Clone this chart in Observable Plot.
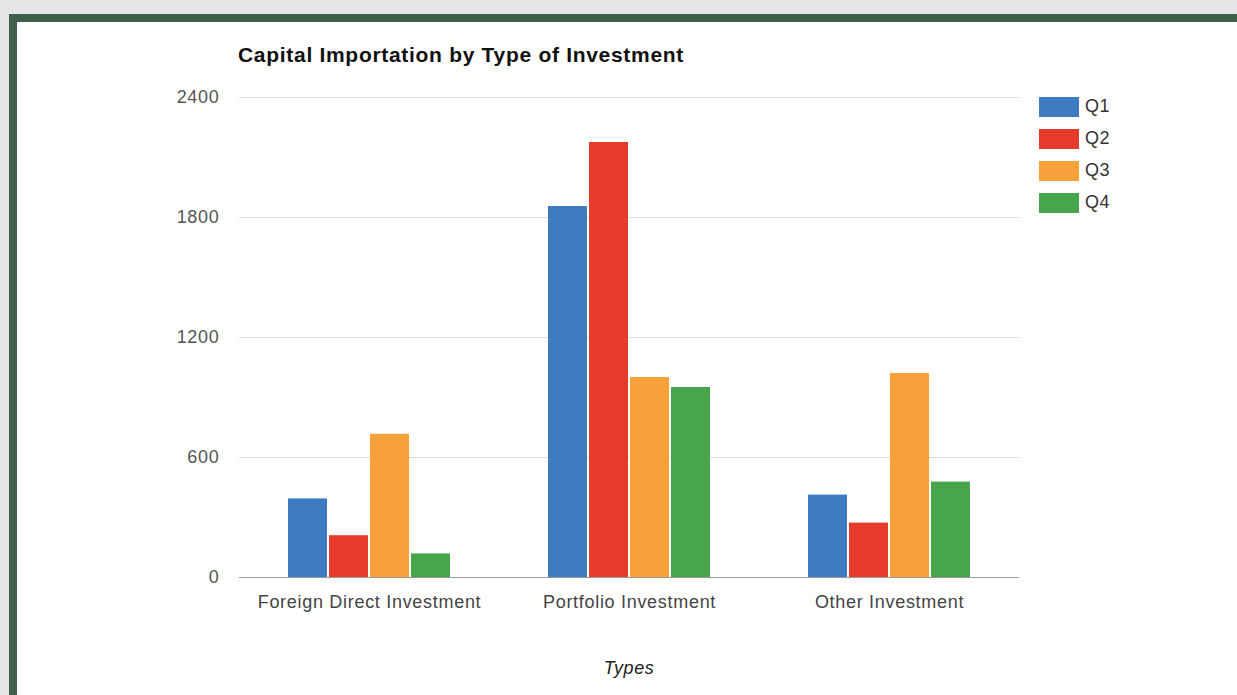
<!DOCTYPE html>
<html><head><meta charset="utf-8">
<script src="https://cdn.jsdelivr.net/npm/d3@7"></script>
<script src="https://cdn.jsdelivr.net/npm/@observablehq/plot@0.6"></script>
<style>
html,body{margin:0;padding:0;}
body{width:1237px;height:695px;background:#e4e6e7;position:relative;overflow:hidden;font-family:"Liberation Sans",Arial,sans-serif;}
#frame{position:absolute;left:9px;top:14px;right:0;bottom:-20px;background:#3f5f4b;}
#panel{position:absolute;left:17px;top:22px;right:0;bottom:-20px;background:#fff;}
#chart{position:absolute;left:0;top:0;}
#title{position:absolute;left:238px;top:44px;font-weight:bold;font-size:21px;line-height:1;letter-spacing:0.7px;color:#111;white-space:nowrap;}
#legend{position:absolute;left:1039px;top:97px;}
.row{display:flex;align-items:center;height:20px;margin-bottom:12px;}
.sw{width:40px;height:20px;margin-right:6px;}
.lab{font-size:18px;line-height:20px;color:#333;letter-spacing:0.6px;margin-top:-2px;}
#xlabel{position:absolute;left:240px;width:778px;top:658px;text-align:center;font-style:italic;font-size:18px;line-height:20px;color:#222;letter-spacing:0.6px;}
</style></head>
<body>
<div id="frame"></div>
<div id="panel"></div>
<div id="chart"></div>
<div id="title"></div>
<div id="legend"></div>
<div id="xlabel"></div>
<script>
const titleText = "Capital Importation by Type of Investment";
const xLabelText = "Types";
const categories = ["Foreign Direct Investment", "Portfolio Investment", "Other Investment"];
const quarters = ["Q1", "Q2", "Q3", "Q4"];
const q1 = [393, 1855, 412];
const q2 = [209, 2175, 272];
const q3 = [716, 1000, 1020];
const q4 = [118, 950, 477];
const yTicks = [0, 600, 1200, 1800, 2400];
const colors = ["#3e7cc2", "#e63b2a", "#f7a13a", "#47a54b"];

const series = [q1, q2, q3, q4];
const data = categories.flatMap((c, i) => series.map((s, j) => ({category: c, quarter: quarters[j], value: s[i]})));

const chart = Plot.plot({
  width: 1237,
  height: 650,
  marginLeft: 239,
  marginRight: 218,
  marginTop: 97,
  marginBottom: 73,
  style: {background: "transparent", fontFamily: "'Liberation Sans', Arial, sans-serif", fontSize: "18px", letterSpacing: "0.7px", color: "#555"},
  fx: {domain: categories, padding: 0, label: null, axis: null},
  x: {domain: quarters, axis: null, paddingInner: 0.05, paddingOuter: 1.17},
  y: {domain: [0, 2400], axis: null},
  color: {domain: quarters, range: colors},
  marks: [
    Plot.gridY(yTicks.filter(d => d > 0), {stroke: "#dcdcdc", strokeOpacity: 1}),
    Plot.axisY(yTicks, {tickSize: 0, tickPadding: 20, label: null, fill: "#555", tickFormat: d => String(d)}),
    Plot.barY(data, {fx: "category", x: "quarter", y: "value", fill: "quarter"}),
    Plot.ruleY([0], {stroke: "#9a9a9a", strokeWidth: 1.2}),
    Plot.axisFx({anchor: "bottom", tickSize: 0, tickPadding: 18, label: null, fill: "#444"})
  ]
});
document.getElementById("chart").appendChild(chart);
document.getElementById("title").textContent = titleText;
document.getElementById("xlabel").textContent = xLabelText;

const colorScale = chart.scale("color");
const legend = document.getElementById("legend");
quarters.forEach(q => {
  const row = document.createElement("div");
  row.className = "row";
  const sw = document.createElement("div");
  sw.className = "sw";
  sw.style.background = colorScale.apply(q);
  const lab = document.createElement("div");
  lab.className = "lab";
  lab.textContent = q;
  row.appendChild(sw);
  row.appendChild(lab);
  legend.appendChild(row);
});
</script>
</body></html>
